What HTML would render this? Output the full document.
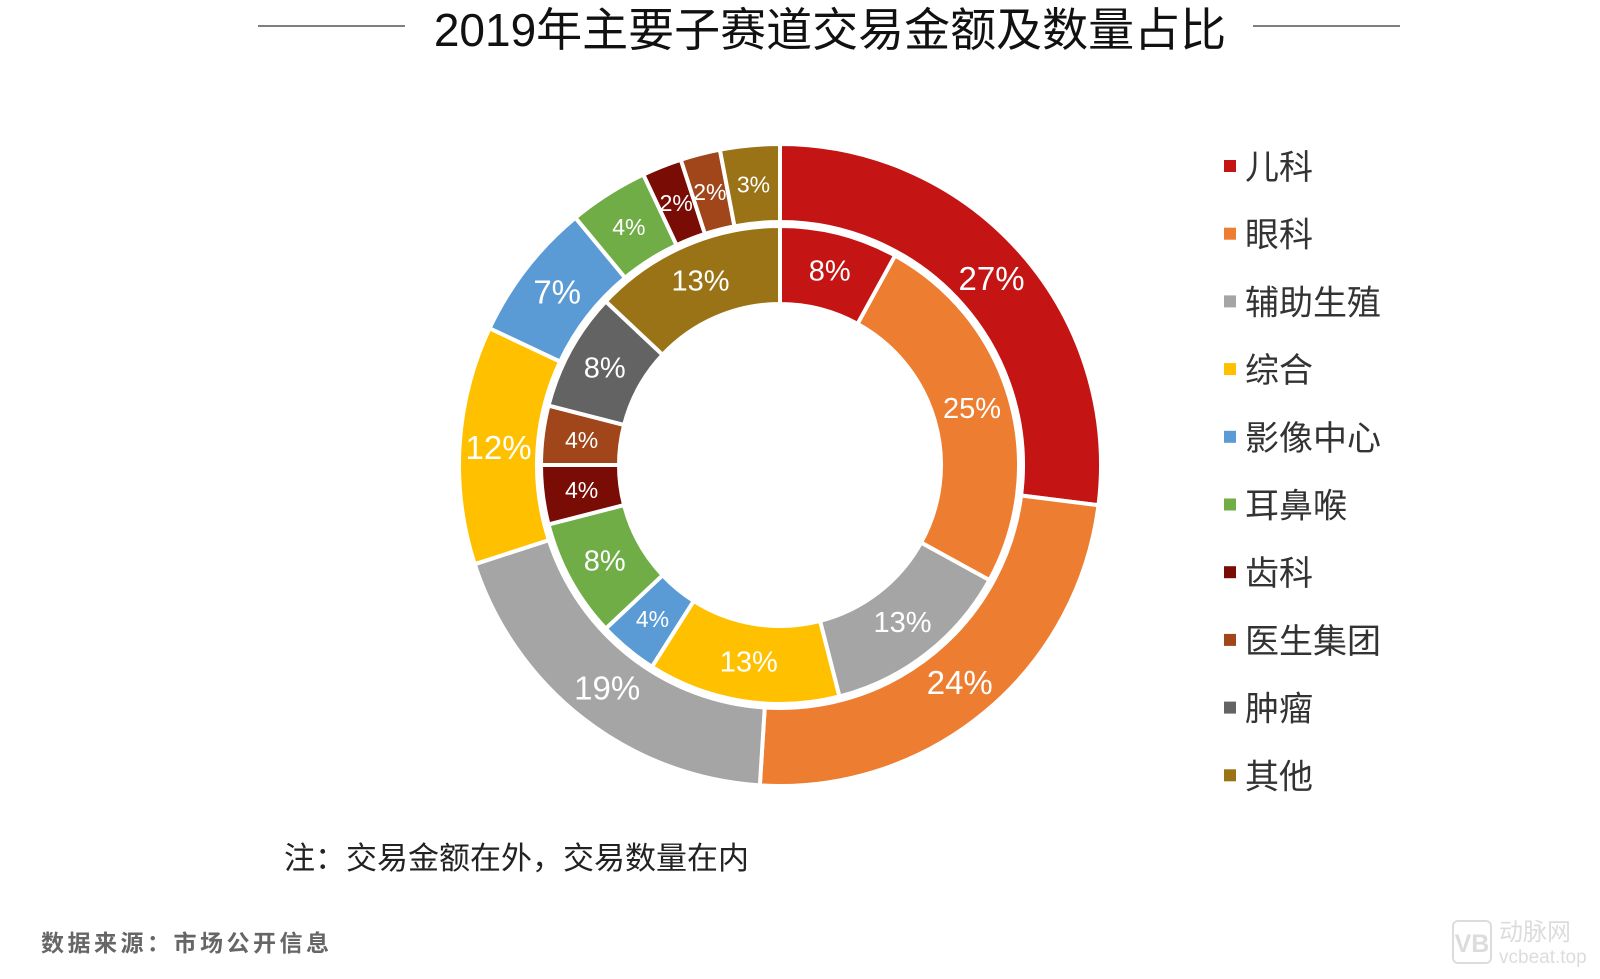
<!DOCTYPE html>
<html><head><meta charset="utf-8"><style>
body{margin:0;width:1600px;height:974px;background:#fff;overflow:hidden;font-family:"Liberation Sans","Noto Sans CJK SC",sans-serif;}
</style></head><body>
<svg width="1600" height="974" xmlns="http://www.w3.org/2000/svg">
<line x1="258" y1="26" x2="405" y2="26" stroke="#555" stroke-width="1.5"/>
<line x1="1253" y1="26" x2="1400" y2="26" stroke="#555" stroke-width="1.5"/>
<text x="830" y="46" text-anchor="middle" font-size="46" fill="#111" font-family="Liberation Sans,Noto Sans CJK SC,sans-serif">2019年主要子赛道交易金额及数量占比</text>
<g id="donut"></g>
<g id="legend"></g>
<text x="284" y="869" font-size="31" fill="#222" font-family="Liberation Sans,Noto Sans CJK SC,sans-serif">注：交易金额在外，交易数量在内</text>
<text x="41" y="951" font-size="23" fill="#666" letter-spacing="3.5" font-weight="bold" font-family="Liberation Sans,Noto Sans CJK SC,sans-serif">数据来源：市场公开信息</text>
<g opacity="0.5">
<rect x="1453" y="921" width="38" height="42" rx="5" fill="none" stroke="#bbb" stroke-width="2"/>
<text x="1472" y="952" text-anchor="middle" font-size="25" font-weight="bold" fill="#bbb">VB</text>
<text x="1499" y="940" font-size="24" fill="#bbb" font-family="Liberation Sans,Noto Sans CJK SC,sans-serif">动脉网</text>
<text x="1499" y="963" font-size="19" fill="#bbb">vcbeat.top</text>
</g>
</svg>
<script>
const categories=["儿科","眼科","辅助生殖","综合","影像中心","耳鼻喉","齿科","医生集团","肿瘤","其他"];
const outerValues=[27,24,19,12,7,4,2,2,0,3];
const innerValues=[8,25,13,13,4,8,4,4,8,13];
const colors=["#C41414","#ED7D31","#A5A5A5","#FFC000","#5B9BD5","#70AD47","#7A0C06","#A0461A","#636363","#9A7316"];
const NS="http://www.w3.org/2000/svg";
const cx=780,cy=465;
function pt(r,a){return [cx+r*Math.sin(a),cy-r*Math.cos(a)];}
function arc(r0,r1,a0,a1){const L=a1-a0>Math.PI?1:0;const p=pt(r1,a0),q=pt(r1,a1),s=pt(r0,a1),t=pt(r0,a0);
return `M${p}A${r1},${r1} 0 ${L} 1 ${q}L${s}A${r0},${r0} 0 ${L} 0 ${t}Z`;}
const g=document.getElementById('donut');
function ring(vals,r0,r1,name,big,small){
 const tot=vals.reduce((a,b)=>a+b,0);let a=0;
 vals.forEach((v,i)=>{if(!v)return;const a0=a/tot*2*Math.PI;a+=v;const a1=a/tot*2*Math.PI;
  const p=document.createElementNS(NS,'path');p.setAttribute('d',arc(r0,r1,a0,a1));p.setAttribute('fill',colors[i]);p.setAttribute('stroke','#fff');p.setAttribute('stroke-width','4');
  
  
  g.appendChild(p);
  const m=pt((r0+r1)/2,(a0+a1)/2);const t=document.createElementNS(NS,'text');
  t.setAttribute('x',m[0]);t.setAttribute('y',m[1]);t.setAttribute('text-anchor','middle');t.setAttribute('dominant-baseline','central');
  t.setAttribute('fill','#fff');t.setAttribute('font-size',v<=4?small:big);t.textContent=v+'%';
  
  
  g.appendChild(t);});
}
ring(outerValues,243,321,'outer',33,23);
ring(innerValues,161,239,'inner',29,23);
const lg=document.getElementById('legend');
categories.forEach((c,i)=>{const y=166+i*67.7;
 const r=document.createElementNS(NS,'rect');r.setAttribute('x',1224);r.setAttribute('y',y-6);r.setAttribute('width',12);r.setAttribute('height',12);r.setAttribute('fill',colors[i]);
 
 
 lg.appendChild(r);
 const t=document.createElementNS(NS,'text');t.setAttribute('x',1245);t.setAttribute('y',y+13);t.setAttribute('font-size',34);t.setAttribute('fill','#333');
 t.setAttribute('font-family','Liberation Sans,Noto Sans CJK SC,sans-serif');t.textContent=c;
 
 
 lg.appendChild(t);});
</script>
</body></html>
